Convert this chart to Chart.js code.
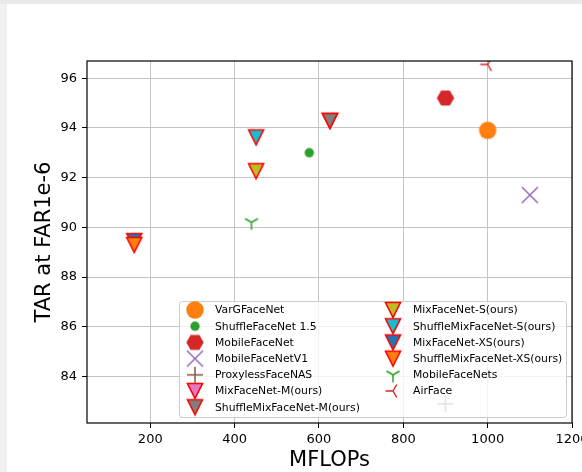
<!DOCTYPE html>
<html>
<head>
<meta charset="utf-8">
<script src="https://cdn.jsdelivr.net/npm/chart.js@4.4.0/dist/chart.umd.min.js"></script>
<style>
  html, body { margin: 0; padding: 0; background: #ebebeb; }
</style>
</head>
<body>
<canvas id="myChart" width="582" height="472"></canvas>
<script>
const models = [
  "VarGFaceNet",
  "ShuffleFaceNet 1.5",
  "MobileFaceNet",
  "MobileFaceNetV1",
  "ProxylessFaceNAS",
  "MixFaceNet-M(ours)",
  "ShuffleMixFaceNet-M(ours)",
  "MixFaceNet-S(ours)",
  "ShuffleMixFaceNet-S(ours)",
  "MixFaceNet-XS(ours)",
  "ShuffleMixFaceNet-XS(ours)",
  "MobileFaceNets",
  "AirFace",
];
const mflops = [1000, 577, 900, 1100, 900, 626, 626, 451, 451, 162, 162, 440, 1000];
const tar = [93.9, 93.0, 95.2, 91.3, 82.9, 94.28, 94.28, 92.26, 93.62, 89.45, 89.29, 90.2, 96.55];
const xTicks = [200, 400, 600, 800, 1000, 1200];
const yTicks = [84, 86, 88, 90, 92, 94, 96];

const font = "DejaVu Sans";
const edgeRed = "#ff0000";

const makeMarker = function (draw) {
  const c = document.createElement("canvas");
  c.width = 26;
  c.height = 26;
  const g = c.getContext("2d");
  g.translate(13, 13);
  g.lineJoin = "miter";
  draw(g);
  return c;
};

const circle = (color, r) => makeMarker((g) => {
  g.beginPath();
  g.arc(0, 0, r, 0, Math.PI * 2);
  g.fillStyle = color;
  g.fill();
});

const hexagon = (color, r) => makeMarker((g) => {
  g.beginPath();
  for (let k = 0; k < 6; k++) {
    const a = (k * Math.PI) / 3;
    g.lineTo(r * Math.cos(a), r * Math.sin(a));
  }
  g.closePath();
  g.fillStyle = color;
  g.fill();
});

const triDown = (color) => makeMarker((g) => {
  g.beginPath();
  g.moveTo(-7.5, -7.5);
  g.lineTo(7.5, -7.5);
  g.lineTo(0, 7.5);
  g.closePath();
  g.fillStyle = color;
  g.fill();
  g.strokeStyle = edgeRed;
  g.lineWidth = 1.6;
  g.stroke();
});

const lines = (color, segs) => makeMarker((g) => {
  g.beginPath();
  segs.forEach((s) => {
    g.moveTo(s[0], s[1]);
    g.lineTo(s[2], s[3]);
  });
  g.strokeStyle = color;
  g.lineWidth = 1.5;
  g.stroke();
});

const markers = [
  circle("#ff7f0e", 8.7),
  circle("#2ca02c", 4.7),
  hexagon("#d62728", 8.7),
  lines("#9467bd", [[-8, -8, 8, 8], [-8, 8, 8, -8]]),
  lines("#8c564b", [[-8, 0, 8, 0], [0, -8, 0, 8]]),
  triDown("#e377c2"),
  triDown("#7f7f7f"),
  triDown("#bcbd22"),
  triDown("#17becf"),
  triDown("#1f77b4"),
  triDown("#ff7f0e"),
  lines("#2ca02c", [[0, 0, 0, 7.5], [0, 0, 6.5, -3.75], [0, 0, -6.5, -3.75]]),
  lines("#d62728", [[0, 0, -7.5, 0], [0, 0, 3.75, -6.5], [0, 0, 3.75, 6.5]]),
];

const datasets = models.map((name, i) => ({
  label: name,
  data: [{ x: mflops[i], y: tar[i] }],
  pointStyle: markers[i],
  pointRadius: 9,
  order: models.length - i,
}));

const background = {
  id: "background",
  beforeDraw(chart) {
    const ctx = chart.ctx;
    ctx.save();
    ctx.fillStyle = "#f0f0f0";
    ctx.fillRect(0, 0, chart.width, chart.height);
    ctx.fillStyle = "#e9e9e9";
    ctx.fillRect(0, 0, chart.width, 4);
    ctx.fillStyle = "#ffffff";
    ctx.fillRect(7, 4, chart.width - 7, chart.height - 4);
    ctx.restore();
  },
};

const spines = {
  id: "spines",
  afterDatasetsDraw(chart) {
    const a = chart.chartArea;
    const ctx = chart.ctx;
    ctx.save();
    ctx.strokeStyle = "#000";
    ctx.lineWidth = 1.2;
    ctx.strokeRect(a.left, a.top, a.right - a.left, a.bottom - a.top);
    ctx.restore();
  },
};

const legendBox = {
  id: "legendBox",
  afterDraw(chart) {
    const ctx = chart.ctx;
    const left = 179.5, top = 301.5, w = 387, h = 116;
    ctx.save();
    ctx.beginPath();
    ctx.roundRect(left, top, w, h, 3);
    ctx.fillStyle = "rgba(255,255,255,0.8)";
    ctx.fill();
    ctx.strokeStyle = "#cccccc";
    ctx.lineWidth = 1;
    ctx.stroke();

    ctx.font = "10.8px '" + font + "'";
    ctx.fillStyle = "#000";
    ctx.textBaseline = "middle";
    ctx.textAlign = "left";
    chart.data.datasets.forEach((ds, i) => {
      const col = i < 7 ? 0 : 1;
      const row = col ? i - 7 : i;
      const mx = col ? left + 213.5 : left + 15.5;
      const y = top + 8.5 + row * 16.2;
      ctx.drawImage(ds.pointStyle, mx - 13, y - 13);
      ctx.fillText(ds.label, mx + 20, y + 0.5);
    });
    ctx.restore();
  },
};

const config = {
  type: "scatter",
  data: { datasets: datasets },
  plugins: [background, spines, legendBox],
  options: {
    responsive: false,
    animation: false,
    devicePixelRatio: 1,
    layout: { padding: { top: 61, right: 9, left: 0, bottom: 0 } },
    plugins: {
      legend: { display: false },
      tooltip: { enabled: false },
    },
    scales: {
      x: {
        type: "linear",
        min: 50,
        max: 1200,
        afterBuildTicks: (s) => {
          s.ticks = xTicks.map((v) => ({ value: v }));
        },
        afterFit: (s) => {
          s.height = 49;
          s.paddingLeft = 0;
          s.paddingRight = 0;
        },
        border: { display: false },
        grid: { color: "#c4c4c4", lineWidth: 1, tickLength: 5, tickColor: "#000", tickWidth: 1 },
        ticks: {
          color: "#000",
          font: { family: font, size: 13 },
          padding: 4,
          autoSkip: false,
          maxRotation: 0,
          callback: (v) => String(v),
        },
        title: {
          display: true,
          text: "MFLOPs",
          color: "#000",
          font: { family: font, size: 21, lineHeight: 1.1 },
          padding: { top: 0, bottom: 0 },
        },
      },
      y: {
        type: "linear",
        min: 82.13,
        max: 96.69,
        afterBuildTicks: (s) => {
          s.ticks = yTicks.map((v) => ({ value: v }));
        },
        afterFit: (s) => {
          s.width = 87;
          s.paddingTop = 0;
          s.paddingBottom = 0;
        },
        border: { display: false },
        grid: { color: "#c4c4c4", lineWidth: 1, tickLength: 5, tickColor: "#000", tickWidth: 1 },
        ticks: {
          color: "#000",
          font: { family: font, size: 13 },
          padding: 5,
          callback: (v) => String(v),
        },
        title: {
          display: true,
          text: "TAR at FAR1e-6",
          color: "#000",
          font: { family: font, size: 21, lineHeight: 1.1 },
          padding: { top: 32.5, bottom: 0 },
        },
      },
    },
  },
};

new Chart(document.getElementById("myChart"), config);
</script>
</body>
</html>
